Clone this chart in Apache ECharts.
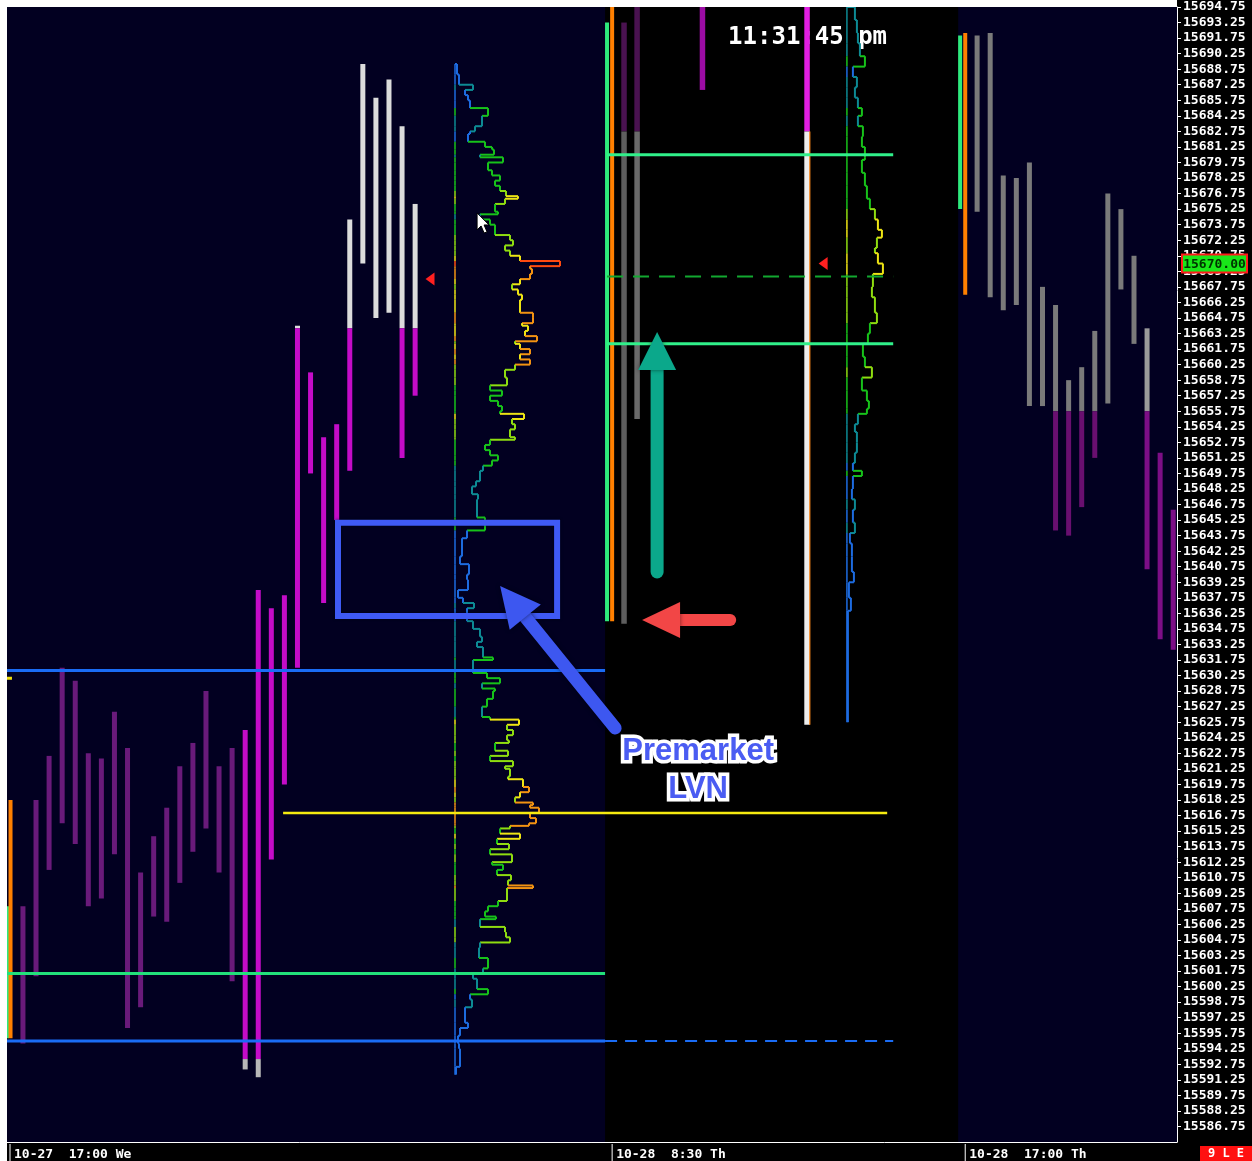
<!DOCTYPE html>
<html><head><meta charset="utf-8">
<style>
html,body{margin:0;padding:0;background:#fff;width:1252px;height:1161px;overflow:hidden}
#c{position:absolute;left:7px;top:0;width:1245px;height:1161px}
</style>
<script src="https://cdn.jsdelivr.net/npm/echarts@6/dist/echarts.min.js"></script>
</head><body><div id="c"></div>
<script>
// ---------------- DATA ----------------
// price axis
const Y_MIN = 15585.25, Y_MAX = 15694.75, Y_STEP = 1.5;
const CURRENT_PRICE = 15670.00;
// session time labels
const sessionLabels = ['10-27  17:00 We', '10-28  8:30 Th', '10-28  17:00 Th'];

// overnight session 10-27 (30-min periods) : TPO high/low
const leftHigh = [15608.0,15618.25,15622.5,15631.0,15629.75,15622.75,15622.25,15626.75,15623.25,15611.25,15614.75,15617.5,15621.5,15623.75,15628.75,15621.5,15623.25,15625.0,15638.5,15636.75,15638.0,15664.0,15659.5,15653.25,15654.5,15674.25,15689.25,15686.0,15687.75,15683.25,15675.75];
const leftLow  = [15594.75,15601.25,15611.5,15616.0,15614.0,15608.0,15608.75,15613.0,15596.25,15598.25,15607.0,15606.5,15610.25,15613.25,15615.5,15611.25,15600.75,15592.25,15591.5,15612.5,15619.75,15631.0,15649.75,15637.25,15645.25,15650.0,15670.0,15664.75,15665.25,15651.25,15657.25];
const leftUpperSplit = 15663.75, leftLowerSplit = 15593.25;

// RTH session 10-28 : periods shown
const midPeriods = [0, 1, 6, 14];
const midHigh = [15693.25, 15697.0, 15697.0, 15697.0];
const midLow  = [15635.25, 15655.0, 15686.75, 15625.5];
const midSplit = 15682.75;

// overnight session 10-28 17:00
const rightHigh = [15692.0,15692.25,15678.5,15678.25,15679.75,15667.75,15666.0,15658.75,15660.0,15663.5,15676.75,15675.25,15670.75,15663.75,15651.75,15646.25];
const rightLow  = [15675.0,15666.75,15665.5,15666.0,15656.25,15656.25,15644.25,15643.75,15646.5,15651.25,15656.5,15667.5,15662.25,15640.5,15633.75,15632.75];
const rightSplit = 15655.75;

// session range markers (green / orange) per session
const sessGreenHigh = [15608.0, 15693.25, 15692.0];
const sessGreenLow  = [15595.25, 15635.5, 15675.25];
const sessOrangeHigh = [15618.25, 15697.0, 15692.25];
const sessOrangeLow  = [15595.25, 15635.5, 15667.0];

// volume profile, overnight 10-27 (price level, relative volume)
const leftProfPrice = [15689.25,15688.25,15687.25,15686.75,15686.25,15685.75,15685.0,15684.25,15683.25,15682.75,15682.5,15681.75,15681.25,15681.0,15680.5,15680.25,15679.75,15679.0,15678.5,15678.0,15677.5,15677.0,15676.5,15676.25,15675.75,15675.0,15674.75,15674.25,15673.75,15672.75,15672.25,15671.75,15671.25,15670.75,15670.25,15669.75,15669.5,15669.0,15668.5,15668.0,15667.5,15667.0,15666.5,15666.0,15665.25,15664.75,15664.25,15664.0,15663.5,15663.0,15662.5,15662.25,15661.75,15661.25,15660.75,15660.25,15659.75,15659.0,15658.25,15657.75,15657.25,15656.75,15656.25,15655.75,15655.5,15655.0,15654.5,15654.0,15653.25,15653.0,15652.5,15652.0,15651.5,15651.0,15650.5,15650.0,15649.0,15648.5,15647.75,15647.25,15645.5,15644.25,15643.5,15641.75,15641.0,15640.0,15639.5,15638.5,15637.75,15637.25,15636.75,15635.5,15634.75,15634.0,15633.5,15633.0,15632.0,15631.75,15630.5,15630.0,15629.5,15629.0,15628.75,15628.0,15627.25,15626.25,15626.0,15625.5,15625.0,15624.5,15624.0,15623.75,15623.0,15622.5,15622.0,15621.5,15621.25,15620.5,15620.25,15619.5,15619.0,15618.5,15618.0,15617.75,15617.5,15617.0,15616.5,15616.0,15615.75,15615.5,15615.0,15614.5,15614.0,15613.5,15613.0,15612.25,15612.0,15611.5,15611.0,15610.5,15610.0,15609.75,15608.5,15608.0,15607.5,15607.0,15606.75,15606.0,15605.5,15605.0,15604.5,15604.0,15603.0,15602.0,15601.5,15601.0,15600.0,15599.5,15599.0,15598.25,15596.75,15596.25,15595.5,15594.75,15594.25,15592.5];
const leftProfVol = [2,4,18,10,13,15,33,27,20,15,13,30,37,39,25,48,33,37,45,40,45,51,63,50,40,43,25,35,40,55,58,50,55,65,105,75,77,75,65,57,63,67,65,65,78,78,67,73,70,82,60,65,75,65,75,60,50,52,35,47,35,43,47,45,69,57,60,55,60,35,30,35,43,37,28,25,21,17,23,22,30,12,7,5,14,12,13,3,8,19,12,18,25,27,22,28,38,18,32,45,27,40,38,32,27,35,64,52,58,52,54,40,53,35,58,50,55,53,68,74,65,60,78,75,84,75,81,74,55,45,65,42,54,35,57,37,48,42,56,53,78,52,43,33,30,41,25,50,51,55,25,24,33,28,18,22,33,15,17,10,13,5,3,4,5,1];
const leftProfEnd = 15591.75;

// volume profile, RTH 10-28
const midProfPrice = [15694.75,15693.5,15692.25,15691.25,15690.0,15689.0,15688.0,15687.0,15686.0,15685.0,15684.25,15683.25,15682.25,15681.25,15680.25,15680.0,15678.75,15677.5,15676.25,15675.25,15674.25,15673.25,15672.5,15671.5,15671.0,15670.0,15669.0,15667.75,15666.75,15665.25,15664.25,15663.25,15662.25,15661.0,15660.0,15659.0,15657.75,15656.75,15656.0,15655.5,15654.5,15653.75,15652.75,15651.75,15650.75,15650.0,15649.5,15648.25,15647.25,15646.25,15645.0,15644.0,15643.0,15641.75,15640.25,15639.25,15637.75,15636.5];
const midProfVol = [8,10,11,13,18,6,10,8,11,15,11,16,15,18,18,15,18,20,23,28,31,35,30,28,31,36,26,25,28,30,23,21,16,18,25,15,20,22,20,11,8,10,10,8,6,15,6,5,8,6,8,3,5,5,7,2,4,1];
const midProfEnd = 15625.75;

// reference levels
const blueHighLevel = 15630.75, blueLowLevel = 15595.0, greenLowLevel = 15601.5;
const yellowLevel = 15617.0, greenUpperLevel = 15680.5, greenLowerLevel = 15662.25;
const greenDashLevel = 15668.75, leftTickLevel = 15630.0;
const markerTriangles = [[15668.5], [15670.0]];
// annotated low volume node range
const lvnHigh = 15645.0, lvnLow = 15636.0;

// ---------------- LAYOUT (slot units on the time axis) ----------------
const SLOT_MAX = 89.5;
const PX_PER_SLOT = 1170 / SLOT_MAX;
const VOL_PER_SLOT = PX_PER_SLOT;
const LEFT_COL0 = 1.22, MID_COL0 = 47.2, RIGHT_COL0 = 74.21;
const LEFT_PROFILE_BASE = 34.27, MID_PROFILE_BASE = 64.25;
const RTH_START = 45.75, RTH_END = 72.76, RTH_LINES_END = 67.79;
const GREEN_MARK_X = [0.0, 45.9, 72.91], ORANGE_MARK_X = [0.27, 46.29, 73.3];
const LABEL_X = [0.23, 46.29, 73.3];
const TRIANGLE_X = [32.36, 62.43];
const NAVY = '#020021';

// ---------------- HELPERS ----------------
function volColor(r) {
  if (r < 0.15) return '#1d6be0';
  if (r < 0.28) return '#0d8a94';
  if (r < 0.46) return '#17c21a';
  if (r < 0.58) return '#8fdc10';
  if (r < 0.7) return '#eee414';
  if (r < 0.9) return '#f39212';
  return '#ff4a10';
}
function splitSegs(hi, lo, splits, colors) {
  const out = [];
  const bounds = [Infinity].concat(splits).concat([-Infinity]);
  for (let k = 0; k < colors.length; k++) {
    const t = Math.min(hi, bounds[k]), b = Math.max(lo, bounds[k + 1]);
    if (t > b) out.push([t, b, colors[k]]);
  }
  return out;
}
function tpoRender(segFn, w) {
  return function (params, api) {
    const x = api.value(0), hi = api.value(1), lo = api.value(2);
    const segs = segFn(params.dataIndex, hi, lo);
    const children = [];
    segs.forEach(function (s) {
      const t = api.coord([x, s[0]]), b = api.coord([x, s[1]]);
      children.push({ type: 'rect', shape: { x: t[0] - w / 2, y: t[1], width: w, height: Math.max(1, b[1] - t[1]) }, style: { fill: s[2] } });
      if (s[3]) children.push({ type: 'line', shape: { x1: t[0] + w / 2, y1: t[1], x2: t[0] + w / 2, y2: b[1] }, style: { stroke: s[3], lineWidth: 1.2 } });
    });
    return { type: 'group', children: children };
  };
}
function profileData(prices, vols, endPrice) {
  return prices.map(function (p, i) {
    return [p, vols[i], i + 1 < prices.length ? prices[i + 1] : endPrice, i > 0 ? vols[i - 1] : 0];
  });
}
function profileRender(base, maxVol) {
  return function (params, api) {
    const p = api.value(0), v = api.value(1), pn = api.value(2), pv = api.value(3);
    const t = api.coord([base, p]), b = api.coord([base, pn]);
    const xv = api.coord([base + v / VOL_PER_SLOT, p])[0];
    const xp = api.coord([base + pv / VOL_PER_SLOT, p])[0];
    const c = volColor(v / maxVol);
    const ch = volColor(Math.max(v, pv) / maxVol);
    return { type: 'group', children: [
      { type: 'line', shape: { x1: t[0], y1: t[1], x2: b[0], y2: b[1] }, style: { stroke: c, lineWidth: 1.5 } },
      { type: 'line', shape: { x1: xp, y1: t[1], x2: xv, y2: t[1] }, style: { stroke: ch, lineWidth: 2 } },
      { type: 'line', shape: { x1: xv, y1: t[1], x2: xv, y2: b[1] }, style: { stroke: c, lineWidth: 2 } }
    ] };
  };
}
function levelSeries(x0, x1, price, color, width, type) {
  return { type: 'line', data: [[x0, price], [x1, price]], symbol: 'none', silent: true, z: 4,
    lineStyle: { color: color, width: width, type: type || 'solid' }, animation: false };
}

// ---------------- SERIES ----------------
const leftData = leftHigh.map(function (h, i) { return [LEFT_COL0 + i, h, leftLow[i]]; });
const midData = midPeriods.map(function (k, i) { return [MID_COL0 + k, midHigh[i], midLow[i]]; });
const rightData = rightHigh.map(function (h, i) { return [RIGHT_COL0 + i, h, rightLow[i]]; });
const greenMarks = sessGreenHigh.map(function (h, i) { return [GREEN_MARK_X[i], h, sessGreenLow[i]]; });
const orangeMarks = sessOrangeHigh.map(function (h, i) { return [ORANGE_MARK_X[i], h, sessOrangeLow[i]]; });

const midTop = ['#4a1250', '#4a1250', '#9c0ca4', '#e21ee2'];
const midBot = ['#5e5e5e', '#6a6a6a', '#6a6a6a', '#ededed'];

const series = [
  { type: 'custom', z: 0, silent: true, clip: true, encode: { x: [0, 1] },
    data: [[0, RTH_START], [RTH_END, SLOT_MAX]],
    renderItem: function (params, api) {
      const a = api.coord([api.value(0), Y_MAX]), b = api.coord([api.value(1), Y_MIN]);
      return { type: 'rect', shape: { x: a[0], y: a[1], width: b[0] - a[0], height: b[1] - a[1] }, style: { fill: NAVY } };
    } },
  { type: 'custom', z: 2, silent: true, clip: true, encode: { x: 0, y: [1, 2] }, data: leftData,
    renderItem: tpoRender(function (i, hi, lo) {
      const mag = i < 17 ? '#691a7a' : '#c40cc8';
      return splitSegs(hi, lo, [leftUpperSplit, leftLowerSplit], ['#dcdcdc', mag, '#b8b8b8']);
    }, 5) },
  { type: 'custom', z: 2, silent: true, clip: true, encode: { x: 0, y: [1, 2] }, data: midData,
    renderItem: tpoRender(function (i, hi, lo) {
      const s = splitSegs(hi, lo, [midSplit], [midTop[i], midBot[i]]);
      if (i === 3 && s.length > 1) s[1][3] = '#ff8a1a';
      return s;
    }, 5.5) },
  { type: 'custom', z: 2, silent: true, clip: true, encode: { x: 0, y: [1, 2] }, data: rightData,
    renderItem: tpoRender(function (i, hi, lo) {
      return splitSegs(hi, lo, [rightSplit], [i === 13 ? '#9a9a9a' : '#7a7a7a', i >= 13 ? '#7c0e86' : '#690f70']);
    }, 5) },
  { type: 'custom', z: 3, silent: true, clip: true, encode: { x: 0, y: [1, 2] }, data: greenMarks,
    renderItem: tpoRender(function (i, hi, lo) { return [[hi, lo, '#2eea7c']]; }, 4) },
  { type: 'custom', z: 3, silent: true, clip: true, encode: { x: 0, y: [1, 2] }, data: orangeMarks,
    renderItem: tpoRender(function (i, hi, lo) { return [[hi, lo, '#ff8000']]; }, 4) },
  { type: 'custom', z: 3, silent: true, clip: true, encode: { x: 1, y: [0, 2] },
    data: profileData(leftProfPrice, leftProfVol, leftProfEnd), renderItem: profileRender(LEFT_PROFILE_BASE, 105) },
  { type: 'custom', z: 3, silent: true, clip: true, encode: { x: 1, y: [0, 2] },
    data: profileData(midProfPrice, midProfVol, midProfEnd), renderItem: profileRender(MID_PROFILE_BASE, 52) },
  levelSeries(0, RTH_START, blueHighLevel, '#1a6cf5', 3),
  levelSeries(0, RTH_START, blueLowLevel, '#1a6cf5', 3),
  levelSeries(RTH_START, RTH_LINES_END, blueLowLevel, '#1a6cf5', 2, [12, 8]),
  levelSeries(0, RTH_START, greenLowLevel, '#22e07a', 3),
  levelSeries(21.12, 67.33, yellowLevel, '#f5ea10', 2.5),
  levelSeries(45.9, RTH_LINES_END, greenUpperLevel, '#30f08a', 3),
  levelSeries(45.9, RTH_LINES_END, greenLowerLevel, '#30f08a', 3),
  levelSeries(45.9, RTH_LINES_END, greenDashLevel, '#12a830', 2, [16, 10]),
  levelSeries(0, 0.38, leftTickLevel, '#f0e010', 3),
  { type: 'scatter', z: 5, silent: true, symbol: 'triangle', symbolRotate: 90, symbolSize: [13, 9],
    itemStyle: { color: '#ff2020', opacity: 1 },
    data: markerTriangles.map(function (p, i) { return [TRIANGLE_X[i], p[0]]; }) }
];

const option = {
  animation: false,
  backgroundColor: '#000',
  grid: { left: 0, top: 7, right: 75, bottom: 19, containLabel: false },
  xAxis: { type: 'value', min: 0, max: SLOT_MAX,
    axisLine: { show: true, onZero: false, lineStyle: { color: '#fff', width: 1 } },
    axisTick: { show: false }, axisLabel: { show: false }, splitLine: { show: false } },
  yAxis: { type: 'value', position: 'right', min: Y_MIN, max: Y_MAX, interval: Y_STEP,
    axisLine: { show: true, onZero: false, lineStyle: { color: '#fff', width: 1 } },
    axisTick: { show: true, length: 4, lineStyle: { color: '#fff' } },
    axisLabel: { color: '#fff', fontFamily: 'DejaVu Sans Mono', fontWeight: 'bold', fontSize: 13, margin: 6,
      showMinLabel: false, formatter: function (v) { return v.toFixed(2); } },
    splitLine: { show: false } },
  series: series
};

const chart = echarts.init(document.getElementById('c'));
chart.setOption(option);

// ---------------- OVERLAYS ----------------
function P(u, p) { return chart.convertToPixel({ gridIndex: 0 }, [u, p]); }
function arrow(tail, tip, color, w, hl, hw) {
  const dx = tip[0] - tail[0], dy = tip[1] - tail[1], L = Math.hypot(dx, dy);
  const ux = dx / L, uy = dy / L, nx = -uy, ny = ux;
  const bx = tip[0] - ux * hl, by = tip[1] - uy * hl;
  const sh = { shadowBlur: 4, shadowColor: 'rgba(0,0,0,0.5)' };
  return [
    { type: 'line', z: 100, shape: { x1: tail[0], y1: tail[1], x2: bx + ux * 2, y2: by + uy * 2 },
      style: Object.assign({ stroke: color, lineWidth: w, lineCap: 'round' }, sh) },
    { type: 'polygon', z: 100, shape: { points: [tip, [bx + nx * hw / 2, by + ny * hw / 2], [bx - nx * hw / 2, by - ny * hw / 2]] },
      style: Object.assign({ fill: color }, sh) }
  ];
}
const g = [];
const gTL = P(0, Y_MAX), gBR = P(SLOT_MAX, Y_MIN);
g.push({ type: 'rect', z: 200, shape: { x: 0, y: 0, width: gBR[0], height: gTL[1] }, style: { fill: '#fff' } });

const tp = P(55.16, 15692.05);
g.push({ type: 'text', z: 1, x: tp[0], y: tp[1] + 3, style: { text: '11:31:45 pm', fill: '#fff', font: 'bold 24px "DejaVu Sans Mono"', align: 'left', verticalAlign: 'middle' } });

const b0 = P(25.32, lvnHigh), b1 = P(42.08, lvnLow);
g.push({ type: 'rect', z: 100, shape: { x: b0[0], y: b0[1], width: b1[0] - b0[0], height: b1[1] - b0[1] },
  style: { fill: 'none', stroke: '#3f5af5', lineWidth: 6, shadowBlur: 3, shadowColor: 'rgba(0,0,0,0.5)' } });

arrow(P(46.52, 15625.19), P(37.72, 15638.89), '#3d57f0', 13, 40, 40).forEach(function (e) { g.push(e); });
arrow(P(49.73, 15640.24), P(49.73, 15663.39), '#0ba88b', 13, 38, 38).forEach(function (e) { g.push(e); });
arrow(P(55.32, 15635.61), P(48.58, 15635.61), '#f24646', 12, 38, 36).forEach(function (e) { g.push(e); });

const t1 = P(52.87, 15623.07), t2 = P(52.87, 15619.4);
[['Premarket', t1], ['LVN', t2]].forEach(function (a) {
  g.push({ type: 'text', z: 101, x: a[1][0], y: a[1][1] + 1, style: { text: a[0], fill: '#4a5cf2', font: 'bold 31px "Liberation Sans"',
    stroke: '#ffffff', lineWidth: 7, align: 'center', verticalAlign: 'middle' } });
});

const cur = P(35.96, 15674.88);
g.push({ type: 'polygon', z: 102, shape: { points: [[0, 0], [0, 17], [4, 13], [7, 20], [10, 19], [7, 12], [12, 12]].map(function (q) { return [cur[0] + q[0], cur[1] + q[1]]; }) },
  style: { fill: '#fff', stroke: '#000', lineWidth: 1 } });

const cp = P(SLOT_MAX, CURRENT_PRICE);
g.push({ type: 'rect', z: 50, shape: { x: cp[0] + 5, y: cp[1] - 9, width: 65, height: 18 }, style: { fill: '#19e619', stroke: '#ff1a1a', lineWidth: 2 } });
g.push({ type: 'text', z: 51, x: cp[0] + 37.5, y: cp[1] + 1, style: { text: CURRENT_PRICE.toFixed(2), fill: '#003300', font: 'bold 13px "DejaVu Sans Mono"', align: 'center', verticalAlign: 'middle' } });

LABEL_X.forEach(function (u, i) {
  const bp = P(u, Y_MIN);
  g.push({ type: 'line', z: 50, shape: { x1: bp[0], y1: bp[1] + 2, x2: bp[0], y2: bp[1] + 19 }, style: { stroke: '#fff', lineWidth: 1 } });
  g.push({ type: 'text', z: 50, x: bp[0] + 4, y: bp[1] + 13, style: { text: sessionLabels[i], fill: '#fff', font: 'bold 13px "DejaVu Sans Mono"', align: 'left', verticalAlign: 'middle' } });
});
const W = chart.getWidth(), H = chart.getHeight();
g.push({ type: 'rect', z: 50, shape: { x: W - 52, y: H - 15, width: 52, height: 15 }, style: { fill: '#ff1010' } });
g.push({ type: 'text', z: 51, x: W - 26, y: H - 7, style: { text: '9 L E', fill: '#fff', font: 'bold 12px "DejaVu Sans Mono"', align: 'center', verticalAlign: 'middle' } });

chart.setOption({ graphic: { elements: g } });
</script>
</body></html>
